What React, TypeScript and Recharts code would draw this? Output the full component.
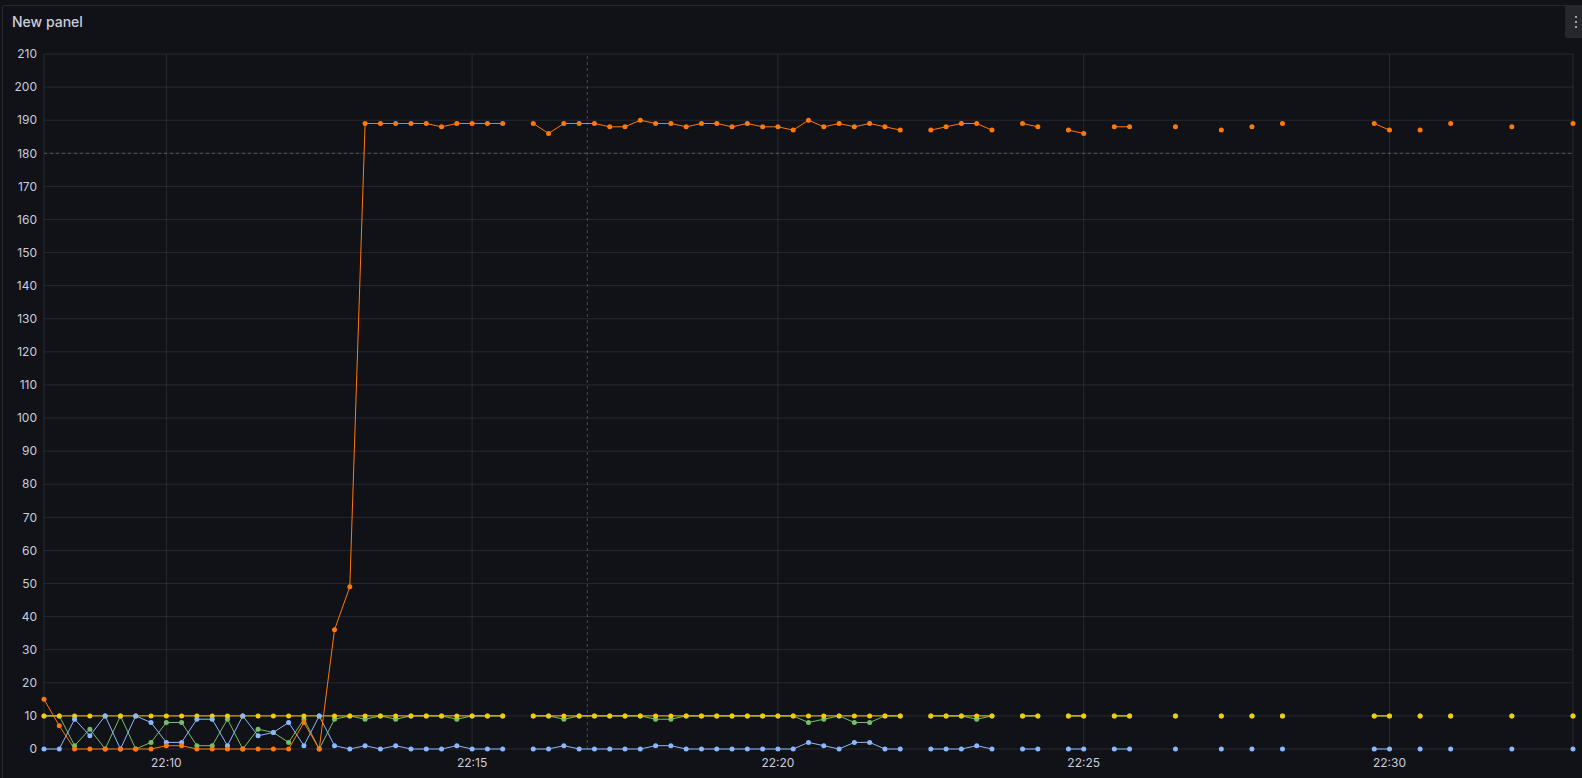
import { LineChart, Line, XAxis, YAxis, CartesianGrid, ReferenceLine } from "recharts";

// scrape times, one per sample (gaps where the target didn't answer)
const sampleTimes = [
  "22:08:00", "22:08:15", "22:08:30", "22:08:45", "22:09:00", "22:09:15", "22:09:30", "22:09:45",
  "22:10:00", "22:10:15", "22:10:30", "22:10:45", "22:11:00", "22:11:15", "22:11:30", "22:11:45",
  "22:12:00", "22:12:15", "22:12:30", "22:12:45", "22:13:00", "22:13:15", "22:13:30", "22:13:45",
  "22:14:00", "22:14:15", "22:14:30", "22:14:45", "22:15:00", "22:15:15", "22:15:30",
  "22:16:00", "22:16:15", "22:16:30", "22:16:45", "22:17:00", "22:17:15", "22:17:30", "22:17:45",
  "22:18:00", "22:18:15", "22:18:30", "22:18:45", "22:19:00", "22:19:15", "22:19:30", "22:19:45",
  "22:20:00", "22:20:15", "22:20:30", "22:20:45", "22:21:00", "22:21:15", "22:21:30", "22:21:45",
  "22:22:00",
  "22:22:30", "22:22:45", "22:23:00", "22:23:15", "22:23:30",
  "22:24:00", "22:24:15",
  "22:24:45", "22:25:00",
  "22:25:30", "22:25:45",
  "22:26:30", "22:27:15", "22:27:45", "22:28:15",
  "22:29:45", "22:30:00",
  "22:30:30", "22:31:00", "22:32:00", "22:33:00",
];

const orangeValues = [
  15, 7, 0, 0, 0, 0, 0, 0, 1, 1, 0, 0, 0, 0, 0, 0, 0, 8, 0, 36, 49,
  189, 189, 189, 189, 189, 188, 189, 189, 189, 189,
  189, 186, 189, 189, 189, 188, 188, 190, 189, 189, 188, 189, 189, 188, 189, 188, 188, 187, 190, 188,
  189, 188, 189, 188, 187,
  187, 188, 189, 189, 187,
  189, 188,
  187, 186,
  188, 188,
  188, 187, 188, 189,
  189, 187,
  187, 189, 188, 189,
];

const yellowValues = [
  10, 10, 10, 10, 10, 10, 10, 10, 10, 10, 10, 10, 10, 10, 10, 10, 10, 10, 10, 10, 10,
  10, 10, 10, 10, 10, 10, 10, 10, 10, 10,
  10, 10, 10, 10, 10, 10, 10, 10, 10, 10, 10, 10, 10, 10, 10, 10, 10, 10, 10, 10,
  10, 10, 10, 10, 10,
  10, 10, 10, 10, 10,
  10, 10,
  10, 10,
  10, 10,
  10, 10, 10, 10,
  10, 10,
  10, 10, 10, 10,
];

const blueValues = [
  0, 0, 9, 4, 10, 0, 10, 8, 2, 2, 9, 9, 1, 10, 4, 5, 8, 1, 10, 1, 0,
  1, 0, 1, 0, 0, 0, 1, 0, 0, 0,
  0, 0, 1, 0, 0, 0, 0, 0, 1, 1, 0, 0, 0, 0, 0, 0, 0, 0, 2, 1,
  0, 2, 2, 0, 0,
  0, 0, 0, 1, 0,
  0, 0,
  0, 0,
  0, 0,
  0, 0, 0, 0,
  0, 0,
  0, 0, 0, 0,
];

const greenValues = [
  10, 10, 1, 6, 0, 10, 0, 2, 8, 8, 1, 1, 9, 0, 6, 5, 2, 9, 0, 9, 10,
  9, 10, 9, 10, 10, 10, 9, 10, 10, 10,
  10, 10, 9, 10, 10, 10, 10, 10, 9, 9, 10, 10, 10, 10, 10, 10, 10, 10, 8, 9,
  10, 8, 8, 10, 10,
  10, 10, 10, 9, 10,
  10, 10,
  10, 10,
  10, 10,
  10, 10, 10, 10,
  10, 10,
  10, 10, 10, 10,
];

const timeTicks = ["22:10", "22:15", "22:20", "22:25", "22:30"];
const valueTicks = [0, 10, 20, 30, 40, 50, 60, 70, 80, 90, 100, 110, 120, 130, 140, 150, 160, 170, 180, 190, 200, 210];
const rangeStart = "22:08:00";
const rangeEnd = "22:33:00";
const thresholdValue = 180;
const markerTime = "22:16:53";
const scrapeInterval = 15;

const toSec = (s: string) => {
  const [h, m, sec] = s.split(":").map(Number);
  return h * 3600 + m * 60 + (sec || 0);
};

const fmt = (v: number) => {
  const h = Math.floor(v / 3600);
  const m = Math.floor((v % 3600) / 60);
  return `${h}:${String(m).padStart(2, "0")}`;
};

// break the lines where a scrape is missing
const rows: any[] = [];
sampleTimes.forEach((s, i) => {
  const t = toSec(s);
  if (i > 0) {
    const prev = toSec(sampleTimes[i - 1]);
    if (t - prev > scrapeInterval) {
      rows.push({ t: (prev + t) / 2, orange: null, yellow: null, blue: null, green: null });
    }
  }
  rows.push({ t, orange: orangeValues[i], yellow: yellowValues[i], blue: blueValues[i], green: greenValues[i] });
});

const tickStyle = { fill: "#ccccdc", fontSize: 12, fontFamily: "Inter" };
const gridColor = "rgba(204,204,220,0.12)";

const series = [
  { key: "green", color: "#73BF69" },
  { key: "yellow", color: "#F2CC0C" },
  { key: "blue", color: "#8AB8FF" },
  { key: "orange", color: "#FF780A" },
];

export default function App() {
  return (
    <div style={{ position: "fixed", left: 0, top: 0, width: 1582, height: 778, background: "#111217", overflow: "hidden", fontFamily: "Inter" }}>
      <div
        style={{
          position: "absolute",
          left: 2,
          top: 5,
          width: 1590,
          height: 790,
          border: "1px solid rgba(204,204,220,0.12)",
          borderRadius: 2,
          boxSizing: "border-box",
        }}
      />
      <div style={{ position: "absolute", left: 12, top: 12, fontSize: 14, fontWeight: 500, color: "#ccccdc", lineHeight: "20px" }}>
        New panel
      </div>
      <div
        style={{
          position: "absolute",
          left: 1565,
          top: 5,
          width: 17,
          height: 33,
          background: "#25272d",
          borderRadius: "2px 0 0 2px",
        }}
      >
        {[12, 17, 22].map((y) => (
          <div key={y} style={{ position: "absolute", left: 10, top: y - 1, width: 2, height: 2, background: "#a0a1a8" }} />
        ))}
      </div>
      <div style={{ position: "absolute", left: 0, top: 0 }}>
        <LineChart width={1582} height={778} data={rows} margin={{ top: 54, right: 9, bottom: 1, left: 0 }}>
          <CartesianGrid stroke={gridColor} />
          <XAxis
            dataKey="t"
            type="number"
            domain={[toSec(rangeStart), toSec(rangeEnd)]}
            ticks={timeTicks.map(toSec)}
            tickFormatter={fmt}
            tick={tickStyle}
            tickLine={false}
            tickSize={0}
            tickMargin={9}
            axisLine={false}
            height={28}
          />
          <YAxis
            domain={[0, 210]}
            ticks={valueTicks}
            tick={tickStyle}
            tickLine={false}
            tickSize={0}
            tickMargin={7}
            axisLine={false}
            width={44}
            interval={0}
          />
          <ReferenceLine y={thresholdValue} stroke="rgba(204,204,220,0.3)" strokeDasharray="3 3" />
          <ReferenceLine x={toSec(markerTime)} stroke="rgba(204,204,220,0.3)" strokeDasharray="3 3" />
          {series.map((s) => (
            <Line
              key={s.key}
              dataKey={s.key}
              type="linear"
              stroke={s.color}
              strokeWidth={1}
              dot={{ r: 2.5, fill: s.color, stroke: s.color, strokeWidth: 0 }}
              activeDot={false}
              connectNulls={false}
              isAnimationActive={false}
            />
          ))}
        </LineChart>
      </div>
    </div>
  );
}
